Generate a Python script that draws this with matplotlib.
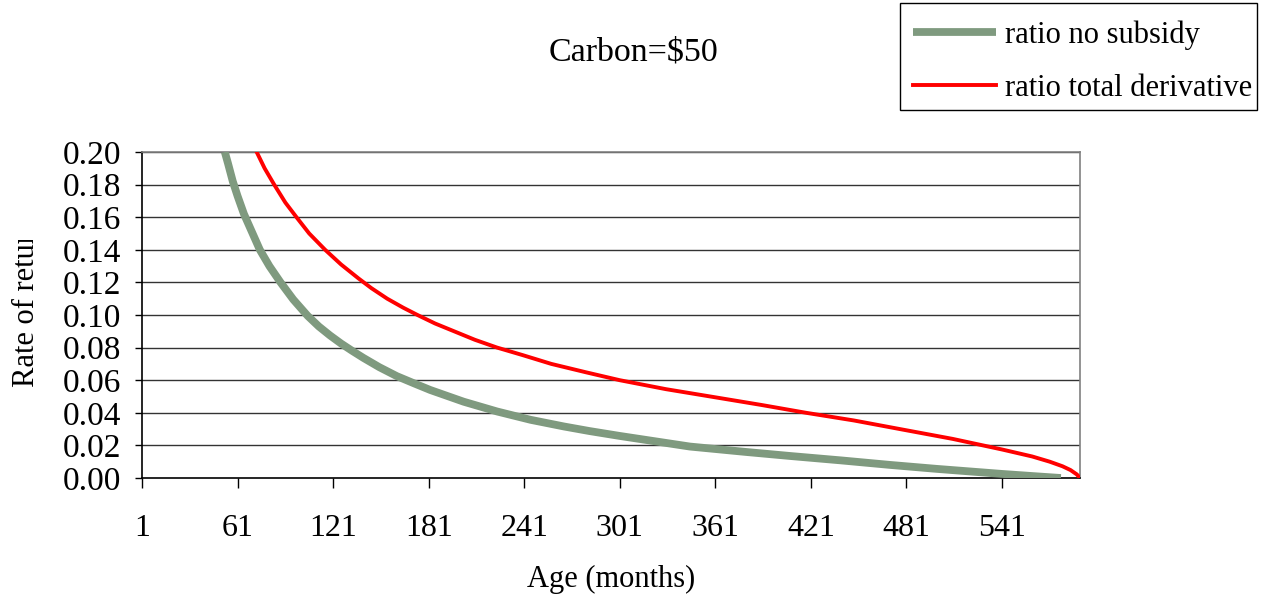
import matplotlib
matplotlib.use("Agg")
import matplotlib.pyplot as plt
from matplotlib.patches import Rectangle
from matplotlib.transforms import Bbox

# values (age in months, rate of return)
no_subsidy_age = [53, 55, 58, 61, 65, 70, 75, 81, 88, 96, 105, 112, 119, 126, 133,
                  140, 150, 161, 172, 182, 203, 224, 245, 266, 282, 301, 345, 380,
                  408, 440, 471, 500, 541, 560, 578]
no_subsidy_rate = [0.200, 0.193, 0.182, 0.173, 0.162, 0.151, 0.140, 0.130, 0.120,
                   0.1095, 0.0995, 0.0930, 0.0875, 0.0825, 0.0780, 0.0737, 0.0680,
                   0.0625, 0.0580, 0.0540, 0.0468, 0.0408, 0.0357, 0.0316, 0.0288,
                   0.0258, 0.0193, 0.0160, 0.0135, 0.0108, 0.0080, 0.0056, 0.0025,
                   0.0012, 0.0]

total_deriv_age = [73, 78, 84, 91, 98, 106, 116, 126, 137, 145, 155, 165, 174, 185,
                   197, 210, 224, 240, 258, 280, 301, 330, 361, 390, 418, 448, 477,
                   510, 541, 560, 571, 579, 584, 588, 590]
total_deriv_rate = [0.200, 0.190, 0.180, 0.169, 0.160, 0.150, 0.140, 0.131, 0.1224,
                    0.1165, 0.110, 0.1045, 0.100, 0.0948, 0.090, 0.0848, 0.080,
                    0.0754, 0.070, 0.0648, 0.060, 0.0545, 0.0495, 0.0448, 0.040,
                    0.0353, 0.030, 0.024, 0.0175, 0.0132, 0.010, 0.0072, 0.0049,
                    0.0022, 0.0]

x_ticks = [1, 61, 121, 181, 241, 301, 361, 421, 481, 541]
y_ticks = [0.00, 0.02, 0.04, 0.06, 0.08, 0.10, 0.12, 0.14, 0.16, 0.18, 0.20]

FONT = "Liberation Serif"
plt.rcParams["font.family"] = FONT

W, H = 1271, 599
fig = plt.figure(figsize=(W / 100, H / 100), dpi=100)
ax = fig.add_axes([142 / W, 1 - 478 / H, 938 / W, 326 / H])

for y in y_ticks[1:]:
    ax.axhline(y, color="#333333", lw=1.0, zorder=1)

ax.plot(no_subsidy_age, no_subsidy_rate, color="#7F9A7F", lw=5.6,
        solid_capstyle="butt", solid_joinstyle="round",
        label="ratio no subsidy", zorder=3)
ax.plot(total_deriv_age, total_deriv_rate, color="#FF0000", lw=2.8,
        solid_joinstyle="round", label="ratio total derivative", zorder=4)

ax.set_xlim(1, 590)
ax.set_ylim(0, 0.2)
ax.set_xticks(x_ticks)
ax.set_xticklabels([str(t) for t in x_ticks])
ax.set_yticks(y_ticks)
ax.set_yticklabels([f"{t:.2f}" for t in y_ticks])
ax.tick_params(axis="y", direction="out", length=5, width=1, pad=10,
               labelsize=24, color="black")
ax.tick_params(axis="x", direction="out", length=7, width=1, pad=19,
               labelsize=23, color="black")

ax.spines["left"].set_color("black")
ax.spines["bottom"].set_color("black")
ax.spines["top"].set_color("#808080")
ax.spines["right"].set_color("#808080")
for s in ax.spines.values():
    s.set_linewidth(1.2)

ax.set_xlabel("Age (months)", fontsize=22, labelpad=16)

fig.text(633 / W, 1 - 52 / H, "Carbon=\\$50", fontsize=24.5,
         ha="center", va="center")

# y label is cut off at the top in the original
ylab = fig.text(27 / W, 1 - 387 / H, "Rate of return", fontsize=22,
                rotation=90, ha="center", va="bottom")
ylab.set_clip_box(Bbox.from_extents(0, 0, W, H - 240))
ylab.set_clip_on(True)

# legend box drawn separately so the entries can sit like in the original
fig.patches.append(Rectangle((900 / W, 1 - 110 / H), 357 / W, 107 / H,
                             transform=fig.transFigure, fill=False,
                             edgecolor="black", lw=1.0))
fig.legend(loc="upper left", bbox_to_anchor=(913 / W, 1 - 20 / H),
           fontsize=22, frameon=False, borderaxespad=0, borderpad=0,
           handlelength=2.7, handletextpad=0.3, labelspacing=0.8)

fig.savefig("out.png", dpi=100)
